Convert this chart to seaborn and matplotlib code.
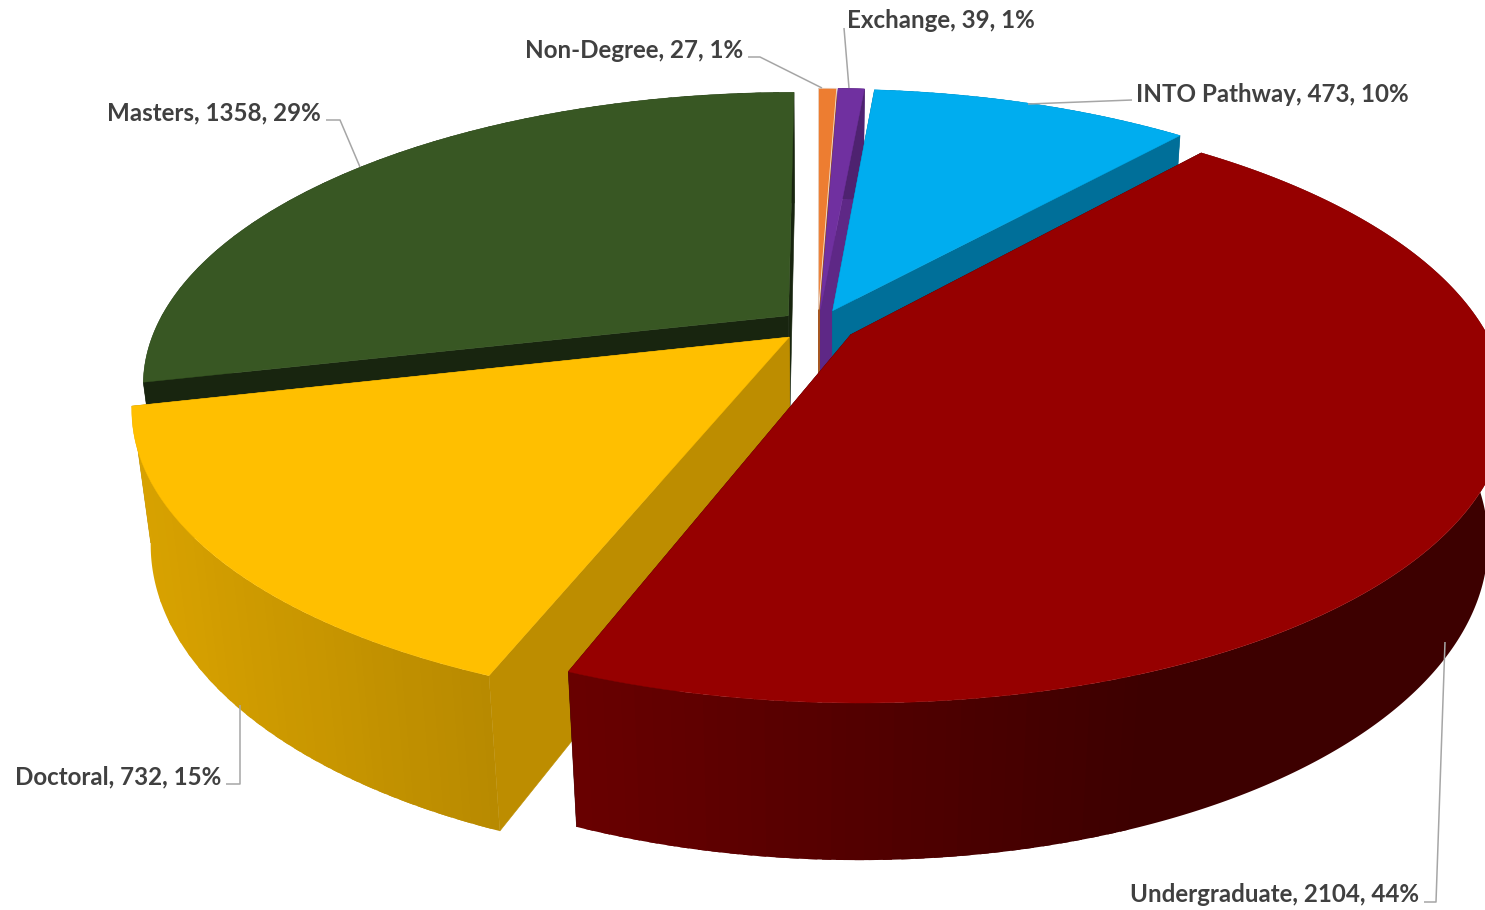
import numpy as np
import matplotlib
matplotlib.use("Agg")
import matplotlib.pyplot as plt
import seaborn as sns

# ---- data -------------------------------------------------------------
categories = ["Undergraduate", "Doctoral", "Masters", "Non-Degree", "Exchange", "INTO Pathway"]
counts = [2104, 732, 1358, 27, 39, 473]

# ---- style ------------------------------------------------------------
top_colors = ["#960000", "#FFBF00", "#385723", "#ED7D31", "#7030A0", "#00ADEF"]
cut_shade = [0.40, 0.74, 0.42, 0.70, 0.84, 0.64]
wall_shade = [(0.70, 0.40), (0.85, 0.72), (0.42, 0.42), (0.7, 0.7), (0.7, 0.7), (0.64, 0.64)]
wall_reach = [1.6, 1.0, 1.0, 1.0, 1.0, 1.0]
edge_colors = {"Non-Degree": "#F3E4D8"}
paint_order = ["Masters", "Non-Degree", "Exchange", "INTO Pathway", "Doctoral", "Undergraduate"]
label_pos = {
    "Undergraduate": (1419, 894, "right"),
    "Doctoral": (221, 777, "right"),
    "Masters": (321, 113, "right"),
    "Non-Degree": (743, 50, "right"),
    "Exchange": (847, 21, "left"),
    "INTO Pathway": (1136, 94, "left"),
}
leaders = {
    "Undergraduate": [(1424, 902), (1436, 902), (1445, 642)],
    "Doctoral": [(226, 784), (240, 784), (240, 705)],
    "Masters": [(326, 120), (340, 120), (360, 167)],
    "Non-Degree": [(748, 57), (760, 57), (822, 88)],
    "Exchange": [(844, 28), (849, 88)],
    "INTO Pathway": [(1132, 100), (1028, 104)],
}

# camera of the 3-D pie
CX, CY, RX, RY = 818.0, 326.0, 632.0, 279.0
PERSP, DROP_S, DROP_Y = 0.23, 0.0265, 134.0
EXPLODE = 0.06
FIRST_ANGLE = 41.0
WALL_BANDS = 36

sns.set_theme(style="white")
plt.rcParams["font.family"] = ["Lato", "DejaVu Sans"]
palette = sns.color_palette(top_colors)


def project(X, Y, h):
    s = 1.0 / (1.0 - PERSP * Y + DROP_S * h)
    return CX + RX * X * s, CY + (RY * Y + DROP_Y * h) * s


def shade(c, f):
    return tuple(v * f for v in c)


fig, ax = plt.subplots(figsize=(14.85, 9.10), dpi=100)
fig.subplots_adjust(0, 0, 1, 1)
ax.set_xlim(0, 1485)
ax.set_ylim(910, 0)
ax.axis("off")

vals = np.array(counts, dtype=float)
sweep = vals / vals.sum() * 360.0
start = FIRST_ANGLE + np.concatenate([[0], np.cumsum(sweep)[:-1]])

for z, name in enumerate(paint_order):
    i = categories.index(name)
    a0, a1 = np.radians(start[i]), np.radians(start[i] + sweep[i])
    mid = (a0 + a1) / 2
    ox, oy = EXPLODE * np.sin(mid), -EXPLODE * np.cos(mid)
    th = np.linspace(a0, a1, max(int(sweep[i] * 3), 6))
    rx, ry = ox + np.sin(th), oy - np.cos(th)
    col = palette[i]
    base = 10 * z

    # cut faces
    for a in (a0, a1):
        ex, ey = ox + np.sin(a), oy - np.cos(a)
        p = [project(ox, oy, 0), project(ex, ey, 0), project(ex, ey, 1), project(ox, oy, 1)]
        ax.fill(*zip(*p), color=shade(col, cut_shade[i]), lw=0.4, zorder=base + 1)

    # outer wall, band by band; every band runs under the next one so no seam shows
    sl, sr = wall_shade[i]
    tx, ty = project(rx, ry, 0)
    bx, by = project(rx, ry, 1)
    xmin, xmax = tx.min(), tx.max()
    u = np.clip((tx - xmin) / max(xmax - xmin, 1) * wall_reach[i], 0, 1)
    band = np.minimum((u * WALL_BANDS).astype(int), WALL_BANDS - 1)
    order = np.unique(band)
    if tx[0] > tx[-1]:
        # wedge runs right to left: paint from the right so later bands overlap earlier
        order = order[::-1]
    for b in order:
        idx = np.where(band == b)[0]
        j0, j1 = max(idx.min() - 1, 0), min(idx.max() + 2, len(th) - 1)
        f = sl + (sr - sl) * (b + 0.5) / WALL_BANDS
        xs = np.r_[tx[j0:j1 + 1], bx[j0:j1 + 1][::-1]]
        ys = np.r_[ty[j0:j1 + 1], by[j0:j1 + 1][::-1]]
        ax.fill(xs, ys, color=shade(col, f), lw=0, zorder=base + 2)

    # top face
    px, py = project(np.r_[ox, rx], np.r_[oy, ry], 0)
    ax.fill(px, py, facecolor=col, edgecolor=edge_colors.get(name, col),
            lw=0.6 if name in edge_colors else 0.3, zorder=base + 3)

total = vals.sum()
for name, count in zip(categories, counts):
    x, y, ha = label_pos[name]
    ax.text(x, y, f"{name}, {count}, {100 * count / total:.0f}%", ha=ha, va="center",
            fontsize=17.4, fontweight="bold", color="#404040", zorder=200)
    lx, ly = zip(*leaders[name])
    ax.plot(lx, ly, color="#A6A6A6", lw=1.1, zorder=190, solid_capstyle="butt")

fig.savefig("out.png", dpi=100, facecolor="white")
